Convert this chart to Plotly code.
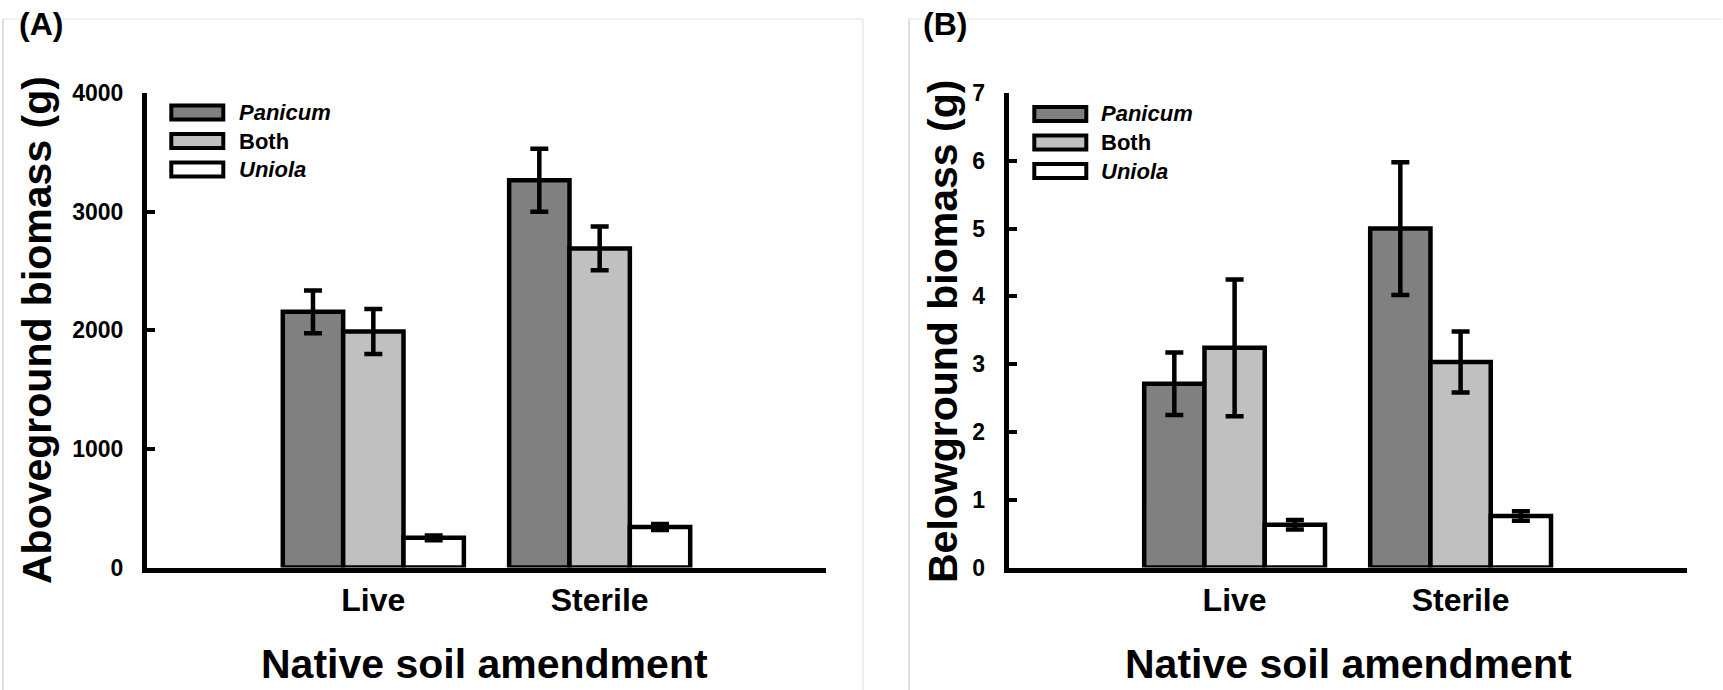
import plotly.graph_objects as go

W, H = 1723, 690

# ---- data ----
soil = ["Live", "Sterile"]
species = ["Panicum", "Both", "Uniola"]
colors = ["#808080", "#c0c0c0", "#ffffff"]

above_panicum = [2155, 3265]
above_both = [1990, 2690]
above_uniola = [250, 341]
above_panicum_se = [180, 265]
above_both_se = [190, 185]
above_uniola_se = [20, 25]

below_panicum = [2.71, 5.00]
below_both = [3.24, 3.03]
below_uniola = [0.63, 0.76]
below_panicum_se = [0.46, 0.98]
below_both_se = [1.01, 0.45]
below_uniola_se = [0.07, 0.07]

y_ticks_a = [0, 1000, 2000, 3000, 4000]
y_ticks_b = [0, 1, 2, 3, 4, 5, 6, 7]

FONT = "Liberation Sans, Arial, Helvetica, sans-serif"


def px(x):
    return x / W


def py(y):
    return 1 - y / H


fig = go.Figure()

panels = [
    ("x", "y", [above_panicum, above_both, above_uniola],
     [above_panicum_se, above_both_se, above_uniola_se]),
    ("x2", "y2", [below_panicum, below_both, below_uniola],
     [below_panicum_se, below_both_se, below_uniola_se]),
]

for xa, ya, vals, errs in panels:
    for name, col, v, e in zip(species, colors, vals, errs):
        fig.add_trace(go.Bar(
            x=soil, y=v, name=name, xaxis=xa, yaxis=ya,
            marker=dict(color=col, line=dict(color="black", width=4.5)),
            error_y=dict(type="data", array=e, color="black", thickness=4.5, width=9),
            showlegend=False,
        ))

ydom = [py(567.5), py(93)]
common_x = dict(
    type="category", categoryorder="array", categoryarray=soil,
    range=[-1, 2], showline=True, linecolor="black", linewidth=5,
    ticks="", showgrid=False, zeroline=False,
    tickfont=dict(family=FONT, size=32, color="black", weight="bold"),
    ticklabelstandoff=0, automargin=False,
)
common_y = dict(
    showline=True, linecolor="black", linewidth=5, ticks="inside",
    ticklen=8, tickwidth=4, tickcolor="black", showgrid=False, zeroline=False,
    tickfont=dict(family=FONT, size=23, color="black", weight="bold"),
    ticklabelstandoff=14, automargin=False, domain=ydom,
)

fig.update_layout(
    width=W, height=H, margin=dict(l=0, r=0, t=0, b=0),
    paper_bgcolor="white", plot_bgcolor="white",
    barmode="group", bargap=0.2, bargroupgap=0,
    xaxis=dict(domain=[px(147), px(826)], anchor="y", **common_x),
    xaxis2=dict(domain=[px(1008.6), px(1686.6)], anchor="y2", **common_x),
    yaxis=dict(range=[0, 4000], tickvals=y_ticks_a, anchor="x", **common_y),
    yaxis2=dict(range=[0, 7], tickvals=y_ticks_b, anchor="x2", **common_y),
    font=dict(family=FONT, color="black"),
)

annotations = []
shapes = []

# panel frames (faint)
for (l, r, right_line) in [(3, 863, True), (909, 1722, False)]:
    shapes.append(dict(type="line", xref="paper", yref="paper", x0=px(l), x1=px(l),
                       y0=py(19), y1=py(690), line=dict(color="#cccccc", width=1.2)))
    shapes.append(dict(type="line", xref="paper", yref="paper", x0=px(l), x1=px(r),
                       y0=py(19), y1=py(19), line=dict(color="#e4e4e4", width=1.2)))
    if right_line:
        shapes.append(dict(type="line", xref="paper", yref="paper", x0=px(r), x1=px(r),
                           y0=py(19), y1=py(690), line=dict(color="#e4e4e4", width=1.2)))

# panel labels, axis titles
panel_info = [
    ("(A)", 40.5, "Aboveground biomass (g)", 37, 330, 485, 169.3, 236.7, [112.5, 141, 169.5]),
    ("(B)", 945, "Belowground biomass (g)", 943, 332, 1348, 1032.3, 1099, [114, 142.5, 171]),
]
labels_html = ["<b><i>Panicum</i></b>", "<b>Both</b>", "<b><i>Uniola</i></b>"]
for lab, lx, ytitle, ytx, yty, xtx, swx, txx, lys in panel_info:
    annotations.append(dict(text="<b>%s</b>" % lab, x=px(lx), y=py(24), xref="paper", yref="paper",
                            showarrow=False, font=dict(family=FONT, size=32, color="black"),
                            xanchor="center", yanchor="middle"))
    annotations.append(dict(text="<b>%s</b>" % ytitle, x=px(ytx), y=py(yty), xref="paper", yref="paper",
                            showarrow=False, textangle=-90, font=dict(family=FONT, size=41, color="black"),
                            xanchor="center", yanchor="middle"))
    annotations.append(dict(text="<b>Native soil amendment</b>", x=px(xtx), y=py(664), xref="paper",
                            yref="paper", showarrow=False, font=dict(family=FONT, size=41, color="black"),
                            xanchor="center", yanchor="middle"))
    # legend
    for col, txt, ly in zip(colors, labels_html, lys):
        shapes.append(dict(type="rect", xref="paper", yref="paper",
                           x0=px(swx + 2), x1=px(swx + 54), y0=py(ly - 7), y1=py(ly + 7),
                           fillcolor=col, line=dict(color="black", width=4)))
        annotations.append(dict(text=txt, x=px(txx), y=py(ly), xref="paper", yref="paper",
                                showarrow=False, font=dict(family=FONT, size=22, color="black"),
                                xanchor="left", yanchor="middle"))

fig.update_layout(annotations=annotations, shapes=shapes)
fig.write_html("out.html", config={"displayModeBar": False},
               post_script="document.body.style.margin='0';")
